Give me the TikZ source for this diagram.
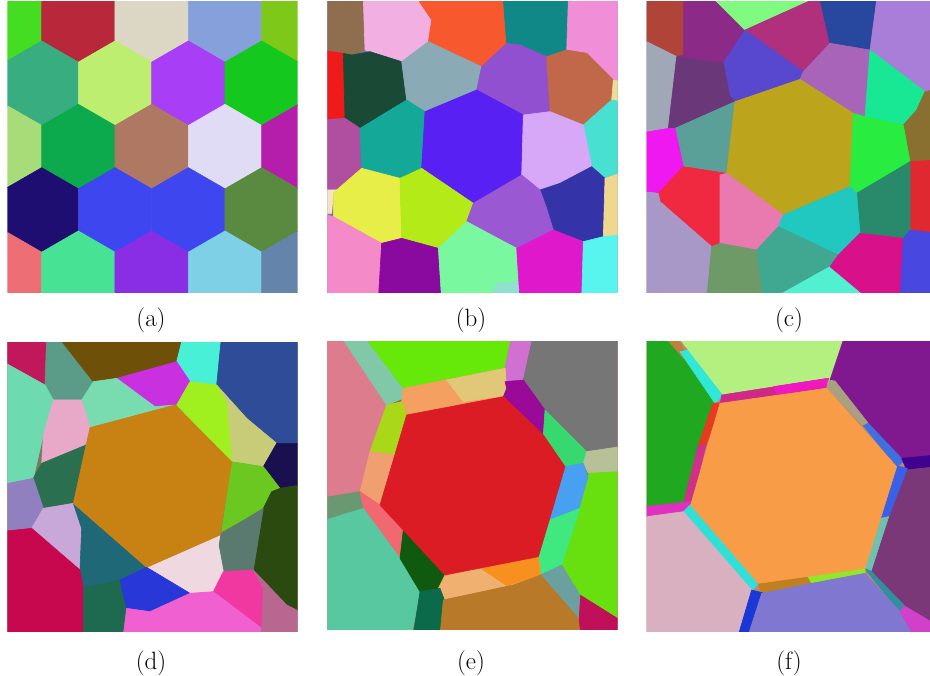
\documentclass[tikz,border=0pt]{standalone}
\begin{document}
\begin{tikzpicture}[x=1pt,y=-1pt,
  lab/.style={anchor=base,inner sep=0pt,font=\fontsize{25}{30}\selectfont}]
\newcommand\pc[2]{\definecolor{pctmp}{HTML}{#1}\filldraw[fill=pctmp,draw=pctmp,line width=0.6pt,line join=round] #2 -- cycle;}
\newcommand\hx[3]{\definecolor{pctmp}{HTML}{#3}\filldraw[fill=pctmp,draw=pctmp,line width=0.6pt] (#1,#2) ++(0,-127) -- ++(110,63.5) -- ++(0,127) -- ++(-110,63.5) -- ++(-110,-63.5) -- ++(0,-127) -- cycle;}
\newcommand\pbg[1]{\definecolor{pctmp}{HTML}{#1}\fill[pctmp] (0,0) rectangle (920,900);}
\useasboundingbox (0,0) rectangle (930,676);
\fill[white] (0,0) rectangle (930,676);

% ---------------- panel (a)
\begin{scope}[x=0.333333pt,y=-0.333333pt]
\clip (22,5) rectangle (893,878);
\hx{15}{60}{44DD22}\hx{235}{60}{B8283A}\hx{455}{60}{DCD6C4}\hx{675}{60}{86A0DC}\hx{895}{60}{7EC81A}
\hx{125}{250}{38AE80}\hx{345}{250}{BEEE70}\hx{565}{250}{A83EF5}\hx{785}{250}{14C81E}
\hx{15}{440}{A8DC78}\hx{235}{440}{0CAA4C}\hx{455}{440}{AE7862}\hx{675}{440}{E0DCF6}\hx{895}{440}{B41EAA}
\hx{125}{630}{1E0E72}\hx{345}{630}{3E46F0}\hx{565}{630}{3E46F0}\hx{785}{630}{5A8A40}
\hx{15}{820}{EE6E76}\hx{235}{820}{48E294}\hx{455}{820}{8A2EE6}\hx{675}{820}{7ED0E6}\hx{895}{820}{6484AC}
\end{scope}

% ---------------- panel (b)
\begin{scope}[xshift=320pt,x=0.333333pt,y=-0.333333pt]
\clip (22,5) rectangle (893,878);
\pbg{8A6AB0}
\pc{8E6E4E}{(0,0) -- (130,0) -- (135,150) -- (95,165) -- (70,160) -- (0,150)}
\pc{F2B0E2}{(130,0) -- (295,0) -- (335,60) -- (325,125) -- (245,185) -- (150,155) -- (135,150)}
\pc{F8582E}{(295,0) -- (550,0) -- (560,130) -- (485,200) -- (325,125) -- (335,60)}
\pc{108888}{(550,0) -- (745,0) -- (740,150) -- (680,170) -- (600,135) -- (560,130)}
\pc{F08ED8}{(745,0) -- (900,0) -- (900,245) -- (880,240) -- (800,160) -- (740,150)}
\pc{F01A1A}{(0,150) -- (70,160) -- (75,355) -- (0,360)}
\pc{1A4A36}{(70,160) -- (95,165) -- (150,155) -- (245,185) -- (260,300) -- (120,385) -- (75,355)}
\pc{8AAAB6}{(245,185) -- (325,125) -- (485,200) -- (470,270) -- (315,335) -- (260,300)}
\pc{9050D0}{(485,200) -- (560,130) -- (600,135) -- (680,170) -- (690,335) -- (610,345) -- (470,270)}
\pc{C2684A}{(680,170) -- (740,150) -- (800,160) -- (880,240) -- (875,300) -- (790,375) -- (690,335)}
\pc{E8E098}{(880,240) -- (900,245) -- (900,305) -- (875,300)}
\pc{48E0D0}{(875,300) -- (900,305) -- (900,520) -- (855,535) -- (815,500) -- (790,375)}
\pc{B04EA0}{(0,360) -- (75,355) -- (120,385) -- (125,505) -- (50,570) -- (0,570)}
\pc{14A898}{(120,385) -- (260,300) -- (315,335) -- (305,505) -- (240,535) -- (125,505)}
\pc{5820F2}{(315,335) -- (470,270) -- (610,345) -- (605,525) -- (460,610) -- (305,505)}
\pc{D8A8F8}{(610,345) -- (690,335) -- (790,375) -- (815,500) -- (720,550) -- (660,570) -- (605,525)}
\pc{3434A8}{(660,570) -- (720,550) -- (815,500) -- (855,535) -- (850,710) -- (790,725) -- (700,690) -- (680,625)}
\pc{EED890}{(855,535) -- (900,520) -- (900,705) -- (850,710)}
\pc{F4E4C4}{(0,570) -- (50,570) -- (40,580) -- (35,640) -- (0,640)}
\pc{E8EE48}{(40,580) -- (50,570) -- (125,505) -- (240,535) -- (245,715) -- (185,730) -- (40,650)}
\pc{B4EA18}{(240,535) -- (305,505) -- (460,610) -- (440,665) -- (355,745) -- (245,715)}
\pc{9A58D2}{(460,610) -- (605,525) -- (660,570) -- (680,625) -- (700,690) -- (590,745) -- (440,665)}
\pc{F48AC8}{(0,640) -- (40,650) -- (185,730) -- (175,900) -- (0,900)}
\pc{8A0AA0}{(185,730) -- (245,715) -- (355,745) -- (365,900) -- (175,900)}
\pc{7AF8A0}{(355,745) -- (440,665) -- (590,745) -- (600,900) -- (365,900)}
\pc{90E0D0}{(530,850) -- (598,845) -- (600,900) -- (510,900)}
\pc{E018CC}{(590,745) -- (700,690) -- (790,725) -- (785,900) -- (600,900)}
\pc{58F4EE}{(790,725) -- (850,710) -- (900,705) -- (900,900) -- (785,900)}
\end{scope}

% ---------------- panel (c)
\begin{scope}[xshift=630pt,x=0.333333pt,y=-0.333333pt]
\clip (50,5) rectangle (900,878);
\pbg{8A6A90}
\pc{B04438}{(0,0) -- (160,0) -- (160,165) -- (140,170) -- (0,100)}
\pc{8C2A88}{(160,0) -- (255,0) -- (345,90) -- (280,190) -- (140,170) -- (160,165)}
\pc{80FA80}{(255,0) -- (545,0) -- (345,90)}
\pc{B0307E}{(545,0) -- (570,0) -- (600,130) -- (520,215) -- (345,90)}
\pc{5848D0}{(280,190) -- (345,90) -- (520,215) -- (510,238) -- (315,305) -- (300,290)}
\pc{2848A0}{(570,0) -- (740,0) -- (720,150) -- (600,130)}
\pc{A87ED8}{(740,0) -- (920,0) -- (920,268) -- (885,275) -- (720,150)}
\pc{A864B8}{(520,215) -- (600,130) -- (720,150) -- (705,350) -- (670,340) -- (510,238)}
\pc{18E894}{(720,150) -- (885,275) -- (860,330) -- (820,375) -- (705,350)}
\pc{8A7030}{(885,275) -- (920,268) -- (920,480) -- (840,485) -- (820,375) -- (860,330)}
\pc{A0A8B8}{(0,100) -- (140,170) -- (115,385) -- (0,405)}
\pc{6A3878}{(140,170) -- (280,190) -- (300,290) -- (315,305) -- (135,385) -- (115,385)}
\pc{5AA098}{(135,385) -- (315,305) -- (290,520) -- (160,500)}
\pc{F018F0}{(0,405) -- (115,385) -- (135,385) -- (160,500) -- (85,580) -- (0,570)}
\pc{BCA41C}{(315,305) -- (510,238) -- (670,340) -- (660,560) -- (460,645) -- (290,520)}
\pc{28EC40}{(670,340) -- (705,350) -- (820,375) -- (840,485) -- (680,580) -- (660,560)}
\pc{E02830}{(840,485) -- (920,480) -- (920,700) -- (840,690)}
\pc{288A6A}{(680,580) -- (840,485) -- (840,690) -- (820,715) -- (690,700)}
\pc{F02840}{(85,580) -- (160,500) -- (290,520) -- (270,730) -- (245,740) -- (90,605)}
\pc{E87AB0}{(270,525) -- (290,520) -- (460,645) -- (445,680) -- (380,750) -- (270,730)}
\pc{20C8C0}{(460,645) -- (660,560) -- (680,580) -- (690,700) -- (625,765) -- (445,680)}
\pc{A898C8}{(0,570) -- (85,580) -- (90,605) -- (245,740) -- (230,900) -- (0,900)}
\pc{6E9A68}{(245,740) -- (270,730) -- (380,750) -- (400,900) -- (230,900)}
\pc{40A890}{(380,750) -- (445,680) -- (625,765) -- (600,800) -- (420,900) -- (400,900)}
\pc{50F0D0}{(420,900) -- (600,800) -- (720,900)}
\pc{D8108A}{(625,765) -- (690,700) -- (820,715) -- (810,900) -- (720,900) -- (600,800)}
\pc{4848E0}{(820,715) -- (840,690) -- (920,700) -- (920,900) -- (810,900)}
\end{scope}

% ---------------- panel (d)
\begin{scope}[yshift=-335pt,x=0.333333pt,y=-0.333333pt]
\clip (22,22) rectangle (893,890);
\pbg{7A7A60}
\pc{C0185A}{(0,0) -- (140,0) -- (135,150) -- (0,75)}
\pc{5A9C88}{(140,0) -- (170,0) -- (280,140) -- (245,195) -- (160,195) -- (135,150)}
\pc{6E5008}{(170,0) -- (550,0) -- (530,80) -- (350,130) -- (280,140)}
\pc{48F0D8}{(550,0) -- (665,0) -- (650,150) -- (570,140) -- (530,80)}
\pc{2E4C98}{(665,0) -- (900,0) -- (900,325) -- (830,325) -- (740,250) -- (650,150)}
\pc{C830E0}{(350,130) -- (530,80) -- (570,140) -- (530,210) -- (465,215)}
\pc{6EDAB0}{(0,75) -- (135,150) -- (160,195) -- (130,300) -- (100,430) -- (0,450)}
\pc{78DCB0}{(245,195) -- (280,140) -- (350,130) -- (465,215) -- (525,210) -- (270,278)}
\pc{E8A8C8}{(160,195) -- (245,195) -- (270,278) -- (258,330) -- (125,385) -- (130,300)}
\pc{C8CC78}{(650,150) -- (740,250) -- (830,325) -- (790,395) -- (700,385) -- (695,380)}
\pc{A0F020}{(530,210) -- (570,140) -- (650,150) -- (680,205) -- (695,380)}
\pc{1A1050}{(830,325) -- (900,325) -- (900,450) -- (840,460) -- (790,395)}
\pc{2A7050}{(125,385) -- (258,330) -- (220,505) -- (130,520) -- (100,430)}
\pc{6AC820}{(695,380) -- (790,395) -- (840,460) -- (815,470) -- (790,520) -- (665,590)}
\pc{2A4A10}{(840,460) -- (900,450) -- (900,830) -- (860,810) -- (760,705) -- (790,520) -- (815,470)}
\pc{9080C0}{(0,450) -- (100,430) -- (130,520) -- (95,580) -- (0,590)}
\pc{C8A8D8}{(95,580) -- (130,520) -- (220,505) -- (245,580) -- (240,705)}
\pc{1E6878}{(245,580) -- (220,505) -- (440,697) -- (360,735) -- (250,760) -- (240,705)}
\pc{5A7A70}{(660,600) -- (790,520) -- (760,705) -- (670,710) -- (655,630)}
\pc{F0D8E0}{(440,697) -- (660,600) -- (655,630) -- (670,710) -- (640,770) -- (570,775)}
\pc{C88214}{(270,278) -- (525,210) -- (695,380) -- (660,600) -- (440,697) -- (220,505)}
\pc{C8084E}{(0,590) -- (95,580) -- (240,705) -- (250,760) -- (250,900) -- (0,900)}
\pc{1E6A50}{(250,760) -- (360,735) -- (380,820) -- (370,900) -- (250,900)}
\pc{2838D8}{(360,735) -- (440,697) -- (570,775) -- (450,830) -- (380,820)}
\pc{F038A0}{(640,770) -- (670,710) -- (760,705) -- (790,760) -- (785,880)}
\pc{F060D0}{(380,820) -- (450,830) -- (570,775) -- (640,770) -- (785,880) -- (780,900) -- (370,900)}
\pc{B86890}{(760,705) -- (860,810) -- (900,830) -- (900,900) -- (780,900) -- (785,880) -- (790,760)}
\end{scope}

% ---------------- panel (e)
\begin{scope}[xshift=320pt,yshift=-335pt,x=0.333333pt,y=-0.333333pt]
\clip (22,20) rectangle (893,885);
\pbg{A06050}
\pc{DC7C8C}{(0,0) -- (60,0) -- (200,210) -- (150,350) -- (120,470) -- (0,490)}
\pc{80C8A8}{(60,0) -- (130,0) -- (250,160) -- (250,190) -- (200,210)}
\pc{66E808}{(130,0) -- (575,0) -- (555,100) -- (330,145) -- (250,160)}
\pc{D070D0}{(575,0) -- (640,0) -- (610,135) -- (555,140) -- (555,100)}
\pc{767676}{(640,0) -- (900,0) -- (900,335) -- (800,350) -- (675,225) -- (610,135)}
\pc{F4A060}{(250,160) -- (555,100) -- (560,160) -- (550,185) -- (260,240) -- (245,200)}
\pc{E0C878}{(380,135) -- (555,100) -- (560,160) -- (550,182) -- (430,200)}
\pc{9A0A98}{(555,140) -- (610,135) -- (675,225) -- (670,300) -- (550,185) -- (560,160)}
\pc{A8D818}{(200,210) -- (245,200) -- (260,240) -- (224,360) -- (150,350)}
\pc{F0A070}{(150,350) -- (224,360) -- (180,510) -- (120,470)}
\pc{38D870}{(675,225) -- (800,350) -- (790,385) -- (735,395) -- (670,300)}
\pc{B8C098}{(800,350) -- (900,335) -- (900,410) -- (805,415) -- (790,385)}
\pc{48A0F0}{(735,395) -- (790,385) -- (805,430) -- (780,520) -- (690,555)}
\pc{68E010}{(805,415) -- (900,410) -- (900,855) -- (780,780) -- (725,690) -- (780,520) -- (805,430)}
\pc{40E880}{(690,555) -- (780,520) -- (725,690) -- (662,720) -- (655,665)}
\pc{6A9870}{(0,490) -- (120,470) -- (130,520) -- (0,560)}
\pc{F06870}{(130,520) -- (120,470) -- (180,510) -- (250,585) -- (240,670)}
\pc{58C8A0}{(0,560) -- (130,520) -- (240,670) -- (300,770) -- (275,900) -- (0,900)}
\pc{105A10}{(250,585) -- (375,720) -- (360,760) -- (300,770) -- (240,670)}
\pc{F0B070}{(375,720) -- (655,665) -- (662,720) -- (580,750) -- (370,795) -- (355,760)}
\pc{F89020}{(480,698) -- (655,665) -- (662,720) -- (560,752)}
\pc{C0105A}{(780,780) -- (900,855) -- (900,900) -- (775,900)}
\pc{6AA0A0}{(662,720) -- (725,690) -- (780,780) -- (775,850)}
\pc{0A6A4A}{(300,770) -- (360,760) -- (375,800) -- (360,900) -- (280,900)}
\pc{B87A28}{(370,795) -- (580,750) -- (662,720) -- (775,850) -- (780,900) -- (360,900)}
\pc{DC1C24}{(260,240) -- (550,185) -- (670,300) -- (735,395) -- (655,665) -- (375,720) -- (180,510)}
\end{scope}

% ---------------- panel (f)
\begin{scope}[xshift=630pt,yshift=-335pt,x=0.333333pt,y=-0.333333pt]
\clip (50,20) rectangle (900,890);
\pbg{C08868}
\pc{20A820}{(0,0) -- (100,0) -- (160,70) -- (255,205) -- (180,500) -- (0,520)}
\pc{C08040}{(100,0) -- (140,0) -- (165,55) -- (160,70)}
\pc{30E8D8}{(150,50) -- (175,45) -- (280,180) -- (255,205)}
\pc{B4F080}{(140,0) -- (645,0) -- (600,135) -- (280,180) -- (175,45)}
\pc{D02888}{(275,180) -- (595,130) -- (600,155) -- (270,210)}
\pc{F018C0}{(430,155) -- (595,130) -- (600,155) -- (440,178)}
\pc{801890}{(645,0) -- (920,0) -- (920,365) -- (820,375) -- (710,270) -- (600,135)}
\pc{A8A080}{(595,135) -- (615,138) -- (715,265) -- (700,272) -- (590,160)}
\pc{4070E0}{(700,272) -- (715,265) -- (822,378) -- (800,395)}
\pc{400090}{(815,370) -- (920,360) -- (920,395) -- (830,405)}
\pc{7A3878}{(830,405) -- (920,395) -- (920,870) -- (820,810) -- (720,710) -- (770,560)}
\pc{3A60E8}{(800,392) -- (832,400) -- (775,548) -- (750,553)}
\pc{70C0B0}{(752,550) -- (776,545) -- (722,712) -- (703,700)}
\pc{3090A0}{(703,700) -- (722,708) -- (822,810) -- (810,832)}
\pc{E83A20}{(248,205) -- (272,203) -- (228,332) -- (205,332)}
\pc{D03088}{(205,330) -- (228,330) -- (184,512) -- (160,505)}
\pc{E030C0}{(0,520) -- (182,500) -- (160,532) -- (0,552)}
\pc{30E0D8}{(158,532) -- (182,508) -- (387,745) -- (365,768)}
\pc{D8B0C0}{(0,552) -- (160,530) -- (365,765) -- (345,900) -- (0,900)}
\pc{C08020}{(383,743) -- (530,720) -- (545,745) -- (395,775)}
\pc{90E828}{(530,718) -- (705,693) -- (705,715) -- (545,745)}
\pc{1838D8}{(365,765) -- (397,773) -- (355,900) -- (325,900)}
\pc{8078D0}{(395,775) -- (545,745) -- (705,715) -- (810,830) -- (850,900) -- (355,900)}
\pc{D040C8}{(810,830) -- (822,812) -- (920,870) -- (920,900) -- (850,900)}
\pc{F89C48}{(270,205) -- (590,160) -- (800,395) -- (705,700) -- (385,745) -- (182,510)}
\end{scope}

% ---------------- labels
\node[lab] (la) at (151,327) {(a)};
\node[lab] (lb) at (471,327) {(b)};
\node[lab] (lc) at (789,327) {(c)};
\node[lab] (ld) at (151,669) {(d)};
\node[lab] (le) at (471,669) {(e)};
\node[lab] (lf) at (789,669) {(f)};
\end{tikzpicture}
\end{document}
